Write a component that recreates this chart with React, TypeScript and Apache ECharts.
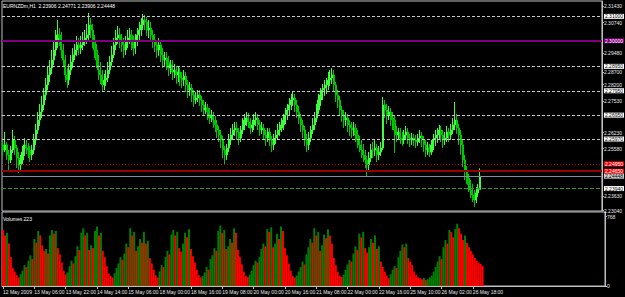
import React, { useEffect, useRef } from 'react';
import * as echarts from 'echarts';

const SYMBOL_TITLE = 'EURNZDm,H1  2.23906 2.24771 2.23906 2.24448';
const VOLUME_TITLE = 'Volumes 223';
const ORDER_TEXT = '#152656884 buy';

const FIRST_OPEN = 2.2573;
const CLOSE = [
  2.2552, 2.2573, 2.2532, 2.2511, 2.2552, 2.2593, 2.2560, 2.2519, 2.2491, 2.2511,
  2.2544, 2.2573, 2.2560, 2.2552, 2.2532, 2.2552, 2.2593, 2.2634, 2.2675, 2.2708,
  2.2737, 2.2778, 2.2819, 2.2860, 2.2888, 2.2921, 2.2962, 2.3003, 2.3024, 2.3011,
  2.2962, 2.2921, 2.2860, 2.2839, 2.2880, 2.2913, 2.2942, 2.2962, 2.2983, 2.2970,
  2.2983, 2.3003, 2.3011, 2.3024, 2.3065, 2.3044, 2.3003, 2.2962, 2.2921, 2.2880,
  2.2860, 2.2819, 2.2839, 2.2847, 2.2880, 2.2913, 2.2942, 2.2983, 2.3011, 2.3024,
  2.3003, 2.2983, 2.2962, 2.2995, 2.3011, 2.3024, 2.2995, 2.2970, 2.3003, 2.3024,
  2.3044, 2.3065, 2.3085, 2.3077, 2.3044, 2.3052, 2.3024, 2.3003, 2.2983, 2.2962,
  2.2983, 2.2942, 2.2921, 2.2929, 2.2913, 2.2888, 2.2901, 2.2872, 2.2880, 2.2860,
  2.2872, 2.2847, 2.2839, 2.2855, 2.2819, 2.2798, 2.2806, 2.2778, 2.2757, 2.2765,
  2.2778, 2.2757, 2.2737, 2.2716, 2.2724, 2.2708, 2.2683, 2.2696, 2.2675, 2.2655,
  2.2634, 2.2614, 2.2593, 2.2552, 2.2532, 2.2560, 2.2593, 2.2614, 2.2634, 2.2642,
  2.2626, 2.2601, 2.2634, 2.2655, 2.2675, 2.2683, 2.2667, 2.2642, 2.2655, 2.2675,
  2.2683, 2.2655, 2.2634, 2.2642, 2.2614, 2.2601, 2.2626, 2.2593, 2.2573, 2.2601,
  2.2614, 2.2634, 2.2642, 2.2655, 2.2675, 2.2696, 2.2716, 2.2737, 2.2757, 2.2765,
  2.2737, 2.2708, 2.2683, 2.2655, 2.2634, 2.2593, 2.2573, 2.2601, 2.2634, 2.2655,
  2.2683, 2.2716, 2.2757, 2.2778, 2.2798, 2.2806, 2.2819, 2.2839, 2.2847, 2.2860,
  2.2819, 2.2778, 2.2757, 2.2716, 2.2696, 2.2675, 2.2683, 2.2655, 2.2642, 2.2634,
  2.2642, 2.2614, 2.2593, 2.2573, 2.2552, 2.2532, 2.2511, 2.2491, 2.2519, 2.2552,
  2.2552, 2.2560, 2.2532, 2.2544, 2.2560, 2.2737, 2.2716, 2.2696, 2.2708, 2.2683,
  2.2675, 2.2634, 2.2614, 2.2626, 2.2601, 2.2593, 2.2614, 2.2626, 2.2601, 2.2593,
  2.2601, 2.2593, 2.2585, 2.2601, 2.2610, 2.2593, 2.2573, 2.2552, 2.2560, 2.2544,
  2.2573, 2.2593, 2.2601, 2.2614, 2.2634, 2.2614, 2.2593, 2.2601, 2.2626, 2.2614,
  2.2634, 2.2655, 2.2675, 2.2642, 2.2614, 2.2573, 2.2511, 2.2470, 2.2437, 2.2409,
  2.2388, 2.2368, 2.2347, 2.2376, 2.23906, 2.24448,
];
const HIGH = [
  2.2601, 2.2626, 2.2585, 2.2552, 2.2569, 2.2634, 2.2610, 2.2573, 2.2544, 2.2532,
  2.2569, 2.2601, 2.2593, 2.2581, 2.2569, 2.2573, 2.2618, 2.2659, 2.2708, 2.2741,
  2.2774, 2.2806, 2.2847, 2.2897, 2.2921, 2.2962, 2.3003, 2.3044, 2.3085, 2.3052,
  2.3036, 2.2987, 2.2942, 2.2888, 2.2905, 2.2942, 2.2970, 2.2987, 2.3020, 2.3011,
  2.3020, 2.3036, 2.3044, 2.3069, 2.3114, 2.3093, 2.3069, 2.3024, 2.2987, 2.2942,
  2.2913, 2.2880, 2.2864, 2.2880, 2.2913, 2.2938, 2.2979, 2.3011, 2.3044, 2.3061,
  2.3052, 2.3028, 2.3011, 2.3020, 2.3044, 2.3052, 2.3044, 2.3020, 2.3028, 2.3052,
  2.3077, 2.3093, 2.3110, 2.3106, 2.3097, 2.3085, 2.3077, 2.3044, 2.3028, 2.3003,
  2.3011, 2.3003, 2.2970, 2.2954, 2.2954, 2.2938, 2.2921, 2.2921, 2.2905, 2.2897,
  2.2893, 2.2888, 2.2872, 2.2880, 2.2872, 2.2839, 2.2831, 2.2823, 2.2798, 2.2790,
  2.2798, 2.2798, 2.2774, 2.2757, 2.2749, 2.2741, 2.2724, 2.2716, 2.2708, 2.2692,
  2.2675, 2.2651, 2.2634, 2.2610, 2.2569, 2.2577, 2.2618, 2.2642, 2.2659, 2.2667,
  2.2667, 2.2642, 2.2651, 2.2683, 2.2700, 2.2708, 2.2704, 2.2683, 2.2675, 2.2700,
  2.2708, 2.2700, 2.2675, 2.2667, 2.2659, 2.2634, 2.2642, 2.2642, 2.2610, 2.2618,
  2.2634, 2.2659, 2.2667, 2.2683, 2.2700, 2.2724, 2.2741, 2.2765, 2.2782, 2.2790,
  2.2782, 2.2757, 2.2733, 2.2700, 2.2675, 2.2651, 2.2618, 2.2626, 2.2651, 2.2683,
  2.2708, 2.2741, 2.2782, 2.2806, 2.2823, 2.2839, 2.2847, 2.2872, 2.2880, 2.2888,
  2.2880, 2.2831, 2.2798, 2.2774, 2.2733, 2.2716, 2.2708, 2.2700, 2.2675, 2.2667,
  2.2667, 2.2659, 2.2634, 2.2610, 2.2593, 2.2577, 2.2552, 2.2528, 2.2544, 2.2577,
  2.2585, 2.2593, 2.2577, 2.2569, 2.2585, 2.2769, 2.2757, 2.2741, 2.2733, 2.2724,
  2.2708, 2.2692, 2.2651, 2.2642, 2.2642, 2.2626, 2.2634, 2.2651, 2.2642, 2.2618,
  2.2622, 2.2618, 2.2614, 2.2618, 2.2634, 2.2626, 2.2610, 2.2593, 2.2585, 2.2577,
  2.2593, 2.2618, 2.2634, 2.2642, 2.2655, 2.2651, 2.2634, 2.2626, 2.2651, 2.2642,
  2.2659, 2.2683, 2.2749, 2.2700, 2.2659, 2.2634, 2.2593, 2.2532, 2.2487, 2.2454,
  2.2429, 2.2413, 2.2388, 2.2400, 2.2413, 2.24771,
];
const LOW = [
  2.2528, 2.2544, 2.2511, 2.2470, 2.2499, 2.2540, 2.2532, 2.2478, 2.2458, 2.2470,
  2.2495, 2.2528, 2.2536, 2.2519, 2.2503, 2.2511, 2.2536, 2.2573, 2.2618, 2.2651,
  2.2683, 2.2716, 2.2757, 2.2798, 2.2831, 2.2864, 2.2901, 2.2938, 2.2970, 2.2979,
  2.2929, 2.2897, 2.2831, 2.2806, 2.2819, 2.2860, 2.2888, 2.2921, 2.2938, 2.2942,
  2.2946, 2.2962, 2.2979, 2.2987, 2.3003, 2.3011, 2.2970, 2.2929, 2.2888, 2.2839,
  2.2823, 2.2790, 2.2798, 2.2815, 2.2831, 2.2864, 2.2897, 2.2929, 2.2962, 2.2987,
  2.2970, 2.2954, 2.2929, 2.2942, 2.2970, 2.2987, 2.2962, 2.2938, 2.2946, 2.2979,
  2.3003, 2.3020, 2.3044, 2.3044, 2.3020, 2.3011, 2.2995, 2.2970, 2.2954, 2.2929,
  2.2938, 2.2913, 2.2888, 2.2897, 2.2880, 2.2855, 2.2864, 2.2839, 2.2847, 2.2823,
  2.2831, 2.2815, 2.2806, 2.2815, 2.2790, 2.2765, 2.2774, 2.2749, 2.2729, 2.2741,
  2.2749, 2.2733, 2.2708, 2.2692, 2.2700, 2.2675, 2.2659, 2.2667, 2.2642, 2.2626,
  2.2601, 2.2585, 2.2560, 2.2519, 2.2491, 2.2511, 2.2544, 2.2573, 2.2593, 2.2610,
  2.2593, 2.2573, 2.2585, 2.2618, 2.2634, 2.2651, 2.2642, 2.2618, 2.2626, 2.2634,
  2.2651, 2.2634, 2.2610, 2.2618, 2.2593, 2.2569, 2.2585, 2.2569, 2.2544, 2.2552,
  2.2577, 2.2593, 2.2610, 2.2626, 2.2634, 2.2659, 2.2675, 2.2692, 2.2716, 2.2733,
  2.2708, 2.2683, 2.2659, 2.2626, 2.2601, 2.2569, 2.2544, 2.2552, 2.2585, 2.2618,
  2.2634, 2.2667, 2.2700, 2.2733, 2.2757, 2.2774, 2.2782, 2.2798, 2.2815, 2.2823,
  2.2790, 2.2749, 2.2724, 2.2692, 2.2667, 2.2642, 2.2651, 2.2626, 2.2610, 2.2601,
  2.2610, 2.2585, 2.2560, 2.2544, 2.2519, 2.2503, 2.2478, 2.2446, 2.2470, 2.2503,
  2.2519, 2.2528, 2.2503, 2.2511, 2.2528, 2.2552, 2.2683, 2.2659, 2.2675, 2.2651,
  2.2634, 2.2540, 2.2585, 2.2593, 2.2577, 2.2569, 2.2577, 2.2593, 2.2577, 2.2564,
  2.2573, 2.2569, 2.2560, 2.2569, 2.2581, 2.2564, 2.2544, 2.2523, 2.2532, 2.2523,
  2.2532, 2.2552, 2.2569, 2.2581, 2.2593, 2.2585, 2.2560, 2.2573, 2.2585, 2.2585,
  2.2593, 2.2618, 2.2634, 2.2618, 2.2573, 2.2532, 2.2482, 2.2429, 2.2413, 2.2380,
  2.2355, 2.2339, 2.2319, 2.2335, 2.2360, 2.23906,
];
const VOLUME = [
  // Tue 12 May 14:00-23:00
  620, 560, 590, 470, 320, 200, 160, 120, 95, 130,
  // Wed 13 May
  170, 230, 210, 280, 340, 300, 520, 480, 610, 560, 450, 390,
  410, 360, 560, 620, 580, 610, 420, 350, 260, 170, 130, 150,
  // Thu 14 May
  220, 280, 250, 330, 440, 400, 590, 640, 560, 590, 400, 450,
  420, 610, 660, 560, 590, 390, 320, 220, 140, 110, 95, 140,
  // Fri 15 May
  200, 250, 320, 290, 360, 470, 430, 640, 560, 600, 390,
  440, 520, 480, 600, 470, 500, 310, 250, 180, 120, 95,
  // Mon 18 May
  160, 230, 210, 320, 390, 350, 570, 620, 560, 600, 420, 380,
  470, 590, 540, 630, 410, 330, 260, 180, 120, 95, 110, 150,
  // Tue 19 May
  210, 180, 300, 340, 420, 390, 610, 670, 590, 620, 410, 440,
  520, 480, 640, 590, 400, 320, 240, 160, 115, 100, 125, 170,
  // Wed 20 May
  230, 280, 260, 320, 410, 470, 440, 630, 600, 650, 430, 470,
  580, 520, 660, 610, 420, 340, 250, 170, 110, 95, 115, 160,
  // Thu 21 May
  210, 270, 240, 350, 430, 520, 480, 640, 560, 600, 390, 450,
  570, 530, 630, 560, 470, 310, 230, 160, 115, 100, 125, 180,
  // Fri 22 May
  240, 290, 270, 360, 440, 400, 580, 540, 600, 420, 370,
  430, 520, 480, 560, 410, 440, 270, 210, 160, 115, 85,
  // Mon 25 May
  130, 180, 220, 200, 320, 390, 460, 430, 470, 310, 270, 230,
  160, 120, 95, 85, 75, 90, 65, 75, 95, 115, 160, 210,
  // Tue 26 May
  270, 330, 300, 430, 510, 470, 620, 600, 540, 630, 690, 640,
  580, 510, 560, 480, 430, 390, 350, 310, 280, 260, 245, 223,
];

const X_TICKS = [
  '12 May 2009', '13 May 06:00', '13 May 22:00', '14 May 14:00', '15 May 06:00',
  '18 May 00:00', '18 May 16:00', '19 May 08:00', '20 May 00:00', '20 May 16:00',
  '21 May 08:00', '22 May 00:00', '22 May 16:00', '25 May 10:00', '26 May 02:00',
  '26 May 18:00',
];
const Y_TICKS = [2.3143, 2.3074, 2.2948, 2.287, 2.282, 2.2753, 2.2623, 2.2558, 2.2363, 2.2304];
const VOL_TICKS = [0, 768];
const WHITE_LEVELS = [2.31, 2.2895, 2.2795, 2.2695, 2.2597];
const PURPLE_LEVEL = 2.3;
const RED_DOTTED_LEVEL = 2.2495;
const RED_SOLID_LEVEL = 2.2465;
const BID_LEVEL = 2.24448;
const ORDER_LEVEL = 2.2394;

const TOTAL_SLOTS = 308;
const FONT = 'Liberation Sans, Arial, sans-serif';

export default function App() {
  const ref = useRef<HTMLDivElement>(null);

  useEffect(() => {
    if (!ref.current) return;
    const chart = echarts.init(ref.current, undefined, { renderer: 'svg' });

    const cats: string[] = [];
    for (let i = 0; i < TOTAL_SLOTS; i++) {
      cats.push(i % 16 === 0 && X_TICKS[i / 16] ? X_TICKS[i / 16] : '');
    }
    const candles = CLOSE.map((c, i) => [i === 0 ? FIRST_OPEN : CLOSE[i - 1], c, LOW[i], HIGH[i]]);
    const vols = VOLUME.map((v, i) => ({
      value: v,
      itemStyle: { color: i > 0 && v > VOLUME[i - 1] ? '#008000' : '#ff0000' },
    }));

    const lvlLabel = (bg: string, fg: string) => ({
      show: true,
      position: 'end',
      distance: 2,
      backgroundColor: bg,
      color: fg,
      fontSize: 5,
      lineHeight: 5,
      fontFamily: FONT,
      padding: [0, 1, 0, 1],
      formatter: (p: any) => Number(p.value).toFixed(5),
    });

    const markData: any[] = [
      ...WHITE_LEVELS.map((v) => ({
        yAxis: v,
        lineStyle: { color: '#c8c8c8', type: [3, 2], width: 1 },
        label: lvlLabel('#ffffff', '#000000'),
      })),
      { yAxis: PURPLE_LEVEL, lineStyle: { color: '#800080', type: 'solid', width: 2 }, label: lvlLabel('#800080', '#ffffff') },
      { yAxis: RED_DOTTED_LEVEL, lineStyle: { color: '#e00000', type: [1, 2], width: 1 }, label: lvlLabel('#ff0000', '#ffffff') },
      { yAxis: RED_SOLID_LEVEL, lineStyle: { color: '#990000', type: 'solid', width: 2 }, label: lvlLabel('#ff0000', '#ffffff') },
      { yAxis: BID_LEVEL, lineStyle: { color: '#8090a0', type: 'solid', width: 1 }, label: lvlLabel('#d0d0d0', '#000000') },
      { yAxis: ORDER_LEVEL, lineStyle: { color: '#2f9a2f', type: [4, 2], width: 1 }, label: lvlLabel('#ffffff', '#000000') },
      {
        yAxis: ORDER_LEVEL,
        lineStyle: { color: '#000000', opacity: 0, width: 0 },
        label: {
          show: true,
          position: 'insideStartTop',
          distance: 1,
          color: '#e0e0e0',
          fontSize: 5,
          fontFamily: FONT,
          formatter: ORDER_TEXT,
        },
      },
    ];

    chart.setOption({
      animation: false,
      backgroundColor: '#000000',
      grid: [
        { left: 2, right: 20, top: 1, height: 210, show: true, borderColor: '#c0c0c0', borderWidth: 1 },
        { left: 2, right: 20, top: 212, height: 74, show: true, borderColor: '#c0c0c0', borderWidth: 1 },
      ],
      xAxis: [
        {
          type: 'category', gridIndex: 0, data: cats, boundaryGap: true,
          axisLine: { show: false }, axisTick: { show: false }, axisLabel: { show: false }, splitLine: { show: false },
        },
        {
          type: 'category', gridIndex: 1, data: cats, boundaryGap: true,
          axisLine: { show: true, lineStyle: { color: '#c0c0c0' } },
          axisTick: { show: true, alignWithLabel: true, length: 3, interval: (_i: number, v: string) => v !== '', lineStyle: { color: '#c0c0c0' } },
          axisLabel: {
            show: true, interval: (_i: number, v: string) => v !== '', align: 'left', margin: 3,
            color: '#e8e8e8', fontSize: 5, fontFamily: FONT,
          },
          splitLine: { show: false },
        },
      ],
      yAxis: [
        {
          type: 'value', gridIndex: 0, position: 'right', min: 2.2302, max: 2.3163, scale: true,
          splitLine: { show: false },
          axisLine: { show: true, lineStyle: { color: '#c0c0c0' } },
          axisTick: { show: true, length: 2, customValues: Y_TICKS, lineStyle: { color: '#c0c0c0' } },
          axisLabel: {
            show: true, customValues: Y_TICKS, margin: 2, color: '#e8e8e8', fontSize: 5, lineHeight: 5, fontFamily: FONT,
            formatter: (v: number) => v.toFixed(5),
          },
        },
        {
          type: 'value', gridIndex: 1, position: 'right', min: 0, max: 820,
          splitLine: { show: false },
          axisLine: { show: true, lineStyle: { color: '#c0c0c0' } },
          axisTick: { show: true, length: 2, customValues: VOL_TICKS, lineStyle: { color: '#c0c0c0' } },
          axisLabel: {
            show: true, customValues: VOL_TICKS, margin: 2, color: '#e8e8e8', fontSize: 5, fontFamily: FONT,
          },
        },
      ],
      graphic: [
        { type: 'text', left: 3, top: 3, style: { text: SYMBOL_TITLE, fill: '#ffffff', fontSize: 5, fontFamily: FONT } },
        { type: 'text', left: 3, top: 216, style: { text: VOLUME_TITLE, fill: '#ffffff', fontSize: 5, fontFamily: FONT } },
      ],
      series: [
        {
          type: 'candlestick',
          xAxisIndex: 0,
          yAxisIndex: 0,
          data: candles,
          barWidth: 1.6,
          itemStyle: {
            color: '#3cff3c',
            color0: '#00a000',
            borderColor: '#3cff3c',
            borderColor0: '#00c800',
            borderColorDoji: '#00c800',
            borderWidth: 1,
          },
          markLine: {
            silent: true,
            precision: 5,
            symbol: ['none', 'none'],
            animation: false,
            data: markData,
          },
        },
        {
          type: 'bar',
          xAxisIndex: 1,
          yAxisIndex: 1,
          data: vols,
          barCategoryGap: '0%',
          barWidth: '100%',
        },
      ],
    });

    return () => chart.dispose();
  }, []);

  return (
    <div
      ref={ref}
      style={{ position: 'fixed', left: 0, top: 0, width: 625, height: 297, background: '#000' }}
    />
  );
}
